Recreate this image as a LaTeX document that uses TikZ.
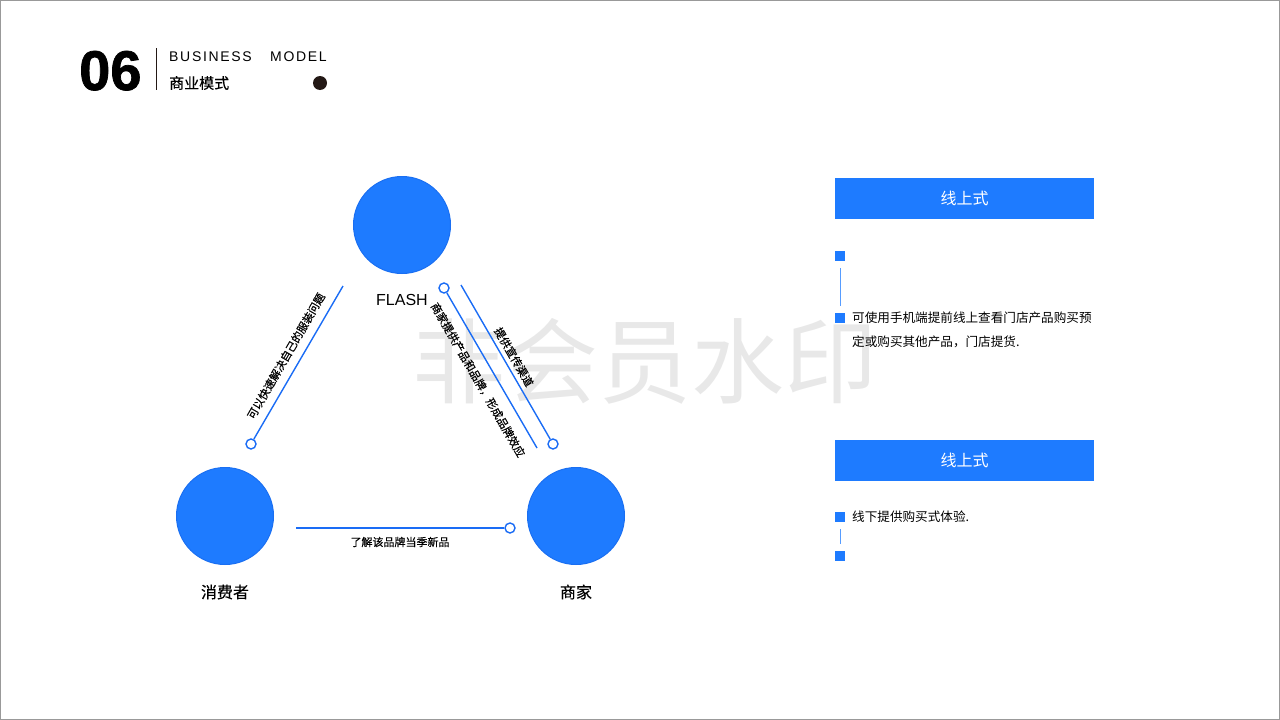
\documentclass[tikz,border=0pt]{standalone}
\usepackage{fontspec}
\setmainfont{Liberation Sans}
\newfontfamily\cjk{Noto Sans CJK SC}
\newfontfamily\cjkm[FakeBold=0.35]{Noto Sans CJK SC}
\newfontfamily\numfont[FakeBold=1.3]{Liberation Sans Bold}
\newfontfamily\spacedfont[LetterSpace=12]{Liberation Sans}
\definecolor{brand}{HTML}{1E7BFF}
\definecolor{brandedge}{HTML}{1A6FF2}
\definecolor{linkblue}{HTML}{1A6CF5}
\definecolor{ink}{HTML}{231815}
\definecolor{wm}{HTML}{E8E8E8}
\tikzset{
  bigcirc/.style={circle, fill=brand, draw=brandedge, line width=1pt, minimum size=97pt, inner sep=0pt},
  dotend/.style={circle, fill=white, draw=linkblue, line width=1.4pt, minimum size=10pt, inner sep=0pt},
  linkline/.style={draw=linkblue, line width=1.4pt},
  lbl/.style={font=\cjkm\fontsize{11}{11}\selectfont, inner sep=0pt, text=black},
  barbox/.style={fill=brand, minimum width=259pt, minimum height=41pt, inner sep=0pt, text=white, font=\cjk\fontsize{16}{16}\selectfont},
  sqbox/.style={fill=brand, minimum size=10pt, inner sep=0pt},
  sqline/.style={draw=brand!75, line width=1pt, shorten <=7pt, shorten >=7pt},
  bodytext/.style={font=\cjk\fontsize{12.6}{12.6}\selectfont, anchor=west, inner sep=0pt, text=black},
  circlabel/.style={font=\cjkm\fontsize{16}{16}\selectfont, inner sep=0pt, text=black}
}
\begin{document}
\begin{tikzpicture}[x=1pt,y=-1pt]
\useasboundingbox (0,0) rectangle (1280,720);
\draw[gray!80, line width=1pt] (0.5,0.5) rectangle (1279.5,719.5);
% watermark
\node[text=wm, font=\cjk\fontsize{93}{93}\selectfont, inner sep=0pt] (wmk) at (645,361) {非会员水印};
% header
\node[font=\numfont\fontsize{56}{56}\selectfont, inner sep=0pt, anchor=base west] (num) at (79,90) {06};
\coordinate (vt) at (156,48);
\coordinate (vb) at (156,90);
\draw[ink, line width=1pt] (vt) -- (vb);
\node[font=\spacedfont\fontsize{14}{14}\selectfont, anchor=base west, inner sep=0pt] (bus) at (169,61) {BUSINESS};
\node[font=\spacedfont\fontsize{14}{14}\selectfont, anchor=base west, inner sep=0pt] (mod) at (270,61) {MODEL};
\node[font=\cjkm\fontsize{15}{15}\selectfont, anchor=west, inner sep=0pt] (cn) at (169,83) {商业模式};
\node[circle, fill=ink, minimum size=14pt, inner sep=0pt] (bdot) at (320,83) {};
% circles
\node[bigcirc] (flash) at (402,225) {};
\node[bigcirc] (cons) at (225,516) {};
\node[bigcirc] (merch) at (576,516) {};
\node[font=\fontsize{16}{16}\selectfont, inner sep=0pt] (flashl) at (402,300) {FLASH};
\node[circlabel] (consl) at (225,592) {消费者};
\node[circlabel] (merchl) at (576,592) {商家};
% left link
\node[dotend] (d1) at (251,444) {};
\coordinate (l1) at (343,286);
\draw[linkline] (d1) -- (l1);
\node[lbl, rotate=60] (lt1) at (286,356) {可以快速解决自己的服装问题};
% right inner link
\node[dotend] (d2) at (444,288) {};
\coordinate (r1) at (537,448);
\draw[linkline] (d2) -- (r1);
\node[lbl, rotate=-60] (lt2) at (478,380) {商家提供产品和品牌，形成品牌效应};
% right outer link
\coordinate (r2) at (461,285);
\node[dotend] (d3) at (553,444) {};
\draw[linkline] (r2) -- (d3);
\node[lbl, rotate=-60] (lt3) at (514,357) {提供宣传渠道};
% bottom link
\coordinate (b1) at (296,528);
\node[dotend] (d4) at (510,528) {};
\draw[linkline] (b1) -- (d4);
\node[lbl] (lt4) at (400,542) {了解该品牌当季新品};
% right panel
\node[barbox] (on1) at (964.5,198.5) {线上式};
\node[sqbox] (s1) at (840,256) {};
\node[sqbox] (s2) at (840,318) {};
\draw[sqline] (s1) -- (s2);
\node[bodytext] (t1) at (852,318) {可使用手机端提前线上查看门店产品购买预};
\node[bodytext] (t2) at (852,342) {定或购买其他产品，门店提货.};
\node[barbox] (on2) at (964.5,460) {线上式};
\node[sqbox] (s3) at (840,517) {};
\node[sqbox] (s4) at (840,556) {};
\draw[sqline] (s3) -- (s4);
\node[bodytext] (t3) at (852,517) {线下提供购买式体验.};
\end{tikzpicture}
\end{document}
